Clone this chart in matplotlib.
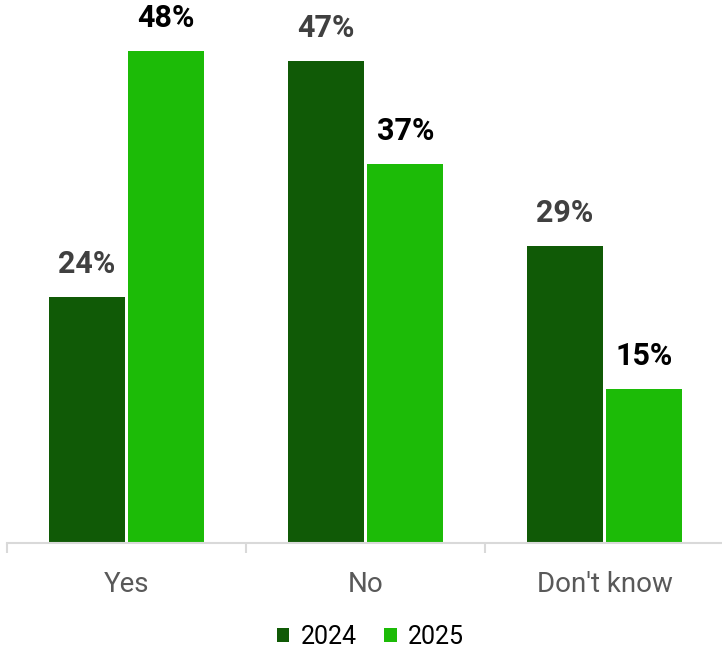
import matplotlib.pyplot as plt
import numpy as np

categories = ["Yes", "No", "Don't know"]
years = ["2024", "2025"]
vals_2024 = [24, 47, 29]
vals_2025 = [48, 37, 15]

col_2024 = "#105a06"
col_2025 = "#1cbb07"
grid_col = "#d9d9d9"

plt.rcParams['font.family'] = ['Roboto', 'DejaVu Sans']

fig = plt.figure(figsize=(7.22, 6.55), dpi=100)
ax = fig.add_axes([7 / 722, 112 / 655, 717 / 722, 543 / 655])

x = np.arange(len(categories))
w = 0.317
gap = 0.008
b1 = ax.bar(x - w / 2 - gap, vals_2024, w, color=col_2024, label=years[0])
b2 = ax.bar(x + w / 2 + gap, vals_2025, w, color=col_2025, label=years[1])

for bars, vals, c in [(b1, vals_2024, "#404040"), (b2, vals_2025, "black")]:
    for r, v in zip(bars, vals):
        ax.annotate(f"{v}%", (r.get_x() + r.get_width() / 2, r.get_height()),
                    xytext=(0, 13), textcoords="offset points",
                    ha="center", va="bottom", fontsize=22, fontweight="bold", color=c)

ax.set_xlim(-0.5, 2.5)
ax.set_ylim(0, 53)
for s in ["top", "right", "left"]:
    ax.spines[s].set_visible(False)
ax.spines["bottom"].set_color(grid_col)
ax.spines["bottom"].set_linewidth(1.5)
ax.set_yticks([])
ax.set_xticks([-0.5, 0.5, 1.5], minor=False)
ax.set_xticklabels([])
ax.tick_params(axis="x", which="major", length=7, width=1.5, color=grid_col)
ax.set_xticks(x, minor=True)
ax.set_xticklabels(categories, minor=True)
ax.tick_params(axis="x", which="minor", length=0, pad=20, labelsize=20, labelcolor="#595959")

fig.legend(handles=[b1, b2], labels=years, loc="lower center", bbox_to_anchor=(0.513, -0.025),
           ncol=2, frameon=False, fontsize=18, handlelength=0.5, handleheight=0.5,
           handletextpad=0.45, columnspacing=1.1)

fig.savefig("out.png", dpi=100)
